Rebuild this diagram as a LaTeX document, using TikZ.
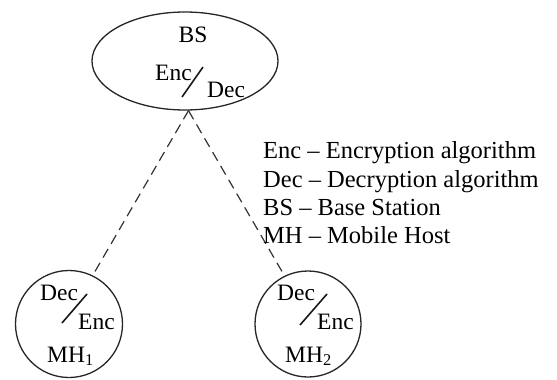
\documentclass[tikz,border=0pt]{standalone}
\usepackage{fontspec}
\setmainfont{Liberation Serif}
\usetikzlibrary{shapes.geometric}
\begin{document}
\begin{tikzpicture}[x=1pt,y=-1pt,
  lbl/.style={inner sep=0pt,anchor=base west,font=\fontsize{23.5}{28}\selectfont},
  leg/.style={lbl,font=\fontsize{24.5}{28}\selectfont},
  shapeline/.style={draw=black!85,line width=1.3pt},
  conn/.style={draw=black!80,line width=1.2pt,dash pattern=on 10pt off 6pt},
  slash/.style={draw=black!90,line width=1.6pt}]
\useasboundingbox (0,0) rectangle (557,380);
% shapes
\node[shapeline,ellipse,minimum width=186pt,minimum height=98pt,inner sep=0pt] (bs) at (185,61) {};
\node[shapeline,circle,minimum size=107pt,inner sep=0pt] (mh1) at (69,324) {};
\node[shapeline,circle,minimum size=106pt,inner sep=0pt] (mh2) at (308,324) {};
% connectors
\draw[conn] (bs.-86) -- (mh1.64);
\draw[conn] (bs.-86) -- (mh2.116);
% BS labels
\node[lbl,anchor=base] (bsname) at (193,42) {BS};
\node[lbl] (bsenc) at (155,80) {Enc};
\node[lbl] (bsdec) at (207,97) {Dec};
\draw[slash] (203,67) -- (182,97);
% MH1 labels
\node[lbl] (m1dec) at (40,300) {Dec};
\node[lbl] (m1enc) at (78,329) {Enc};
\draw[slash] (87,294) -- (62,323);
\node[lbl] (m1name) at (47,362) {MH\textsubscript{1}};
% MH2 labels
\node[lbl] (m2dec) at (277,300) {Dec};
\node[lbl] (m2enc) at (317,329) {Enc};
\draw[slash] (327,294) -- (300,325);
\node[lbl] (m2name) at (285,362) {MH\textsubscript{2}};
% legend
\node[leg] (leg1) at (263,158) {Enc – Encryption algorithm};
\node[leg] (leg2) at (263,187) {Dec – Decryption algorithm};
\node[leg] (leg3) at (263,215) {BS – Base Station};
\node[leg] (leg4) at (263,243) {MH – Mobile Host};
\end{tikzpicture}
\end{document}
